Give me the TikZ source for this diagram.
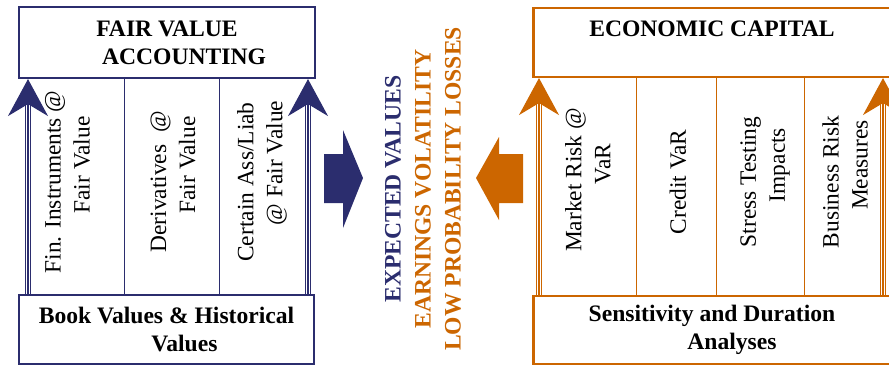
\documentclass[tikz,border=0pt]{standalone}
\usepackage{fontspec}
\setmainfont{Liberation Serif}
\usetikzlibrary{arrows.meta}
\definecolor{navy}{HTML}{2B2D6E}
\definecolor{orng}{HTML}{CC6600}
\begin{document}
\begin{tikzpicture}[x=0.5pt,y=-0.5pt,
  box/.style={draw, line width=1.25pt, fill=white, inner sep=0pt, align=center,
    font=\fontsize{11.8}{14}\selectfont\bfseries},
  col/.style={rotate=90, align=center, inner sep=0pt,
    font=\fontsize{11.7}{14.5}\selectfont},
  shaft/.style={double, line width=0.55pt, double distance=2.1pt, shorten >=12pt},
  tip/.style={line width=0.55pt, -{Stealth[length=18.5pt,width=20pt,inset=6pt]}},
  divider/.style={line width=0.5pt},
  midtext/.style={rotate=90, align=center, inner sep=0pt,
    font=\fontsize{11.8}{15}\selectfont\bfseries}
  ]
\useasboundingbox (0,0) rectangle (889,366);
\clip (0,0) rectangle (889,366);

% ---------- left panel ----------
\node[box, draw=navy, minimum width=148pt, minimum height=35.3pt] (lt) at (167,42.5)
  {FAIR VALUE\\\hspace*{17pt}ACCOUNTING};
\node[box, draw=navy, minimum width=147.5pt, minimum height=34.3pt] (lb) at (166.5,329.5)
  {Book Values \& Historical\\\hspace*{18pt}Values};

\coordinate (la1) at (28,0);
\coordinate (la2) at (308,0);
\coordinate (ld1) at (124,0);
\coordinate (ld2) at (219,0);

\draw[navy, divider] (lt.south -| ld1) -- (lb.north -| ld1);
\draw[navy, divider] (lt.south -| ld2) -- (lb.north -| ld2);
\foreach \c in {la1,la2}{
  \draw[navy, shaft] (lb.north -| \c) -- (lt.south -| \c);
  \draw[navy, tip, fill=navy] (lb.north -| \c) -- (lt.south -| \c);
}

\node[col] (lc1) at (67.5,182) {Fin. Instruments @\\\hspace*{17pt}Fair Value};
\node[col] (lc2) at (173,182) {Derivatives\ \ @\\\hspace*{17pt}Fair Value};
\node[col] (lc3) at (262,182) {Certain Ass/Liab\\\hspace*{19pt}@ Fair Value};

% ---------- middle ----------
\fill[navy] (324,154) -- (343,154) -- (343,130) -- (363,178) -- (343,228)
  -- (343,203) -- (324,203) -- cycle;
\fill[orng] (523,154) -- (499,154) -- (499,137) -- (476,178) -- (499,220)
  -- (499,203) -- (523,203) -- cycle;

\node[midtext] (mt) at (423,189)
  {\textcolor{navy}{EXPECTED VALUES}\\
   \textcolor{orng}{EARNINGS VOLATILITY}\\
   \textcolor{orng}{LOW PROBABILITY LOSSES}};

% ---------- right panel ----------
\node[box, draw=orng, minimum width=178.75pt, minimum height=34.3pt] (rt) at (712,42.5)
  {ECONOMIC CAPITAL\\\mbox{}};
\node[box, draw=orng, minimum width=178.75pt, minimum height=33.8pt] (rb) at (712,330)
  {Sensitivity and Duration\\\hspace*{20pt}Analyses};

\coordinate (ra1) at (539,0);
\coordinate (ra2) at (883,0);
\coordinate (rd1) at (636,0);
\coordinate (rd2) at (716,0);
\coordinate (rd3) at (804,0);

\draw[orng, divider] (rt.south -| rd1) -- (rb.north -| rd1);
\draw[orng, divider] (rt.south -| rd2) -- (rb.north -| rd2);
\draw[orng, divider] (rt.south -| rd3) -- (rb.north -| rd3);
\foreach \c in {ra1,ra2}{
  \draw[orng, shaft] (rb.north -| \c) -- (rt.south -| \c);
  \draw[orng, tip, fill=orng] (rb.north -| \c) -- (rt.south -| \c);
}

\node[col] (rc1) at (588,180) {Market Risk @\\\hspace*{16pt}VaR};
\node[col] (rc2) at (678,182) {Credit VaR};
\node[col] (rc3) at (765,182) {Stress Testing\\\hspace*{17pt}Impacts};
\node[col] (rc4) at (845,182) {Business Risk\\\hspace*{17pt}Measures};
\end{tikzpicture}
\end{document}
